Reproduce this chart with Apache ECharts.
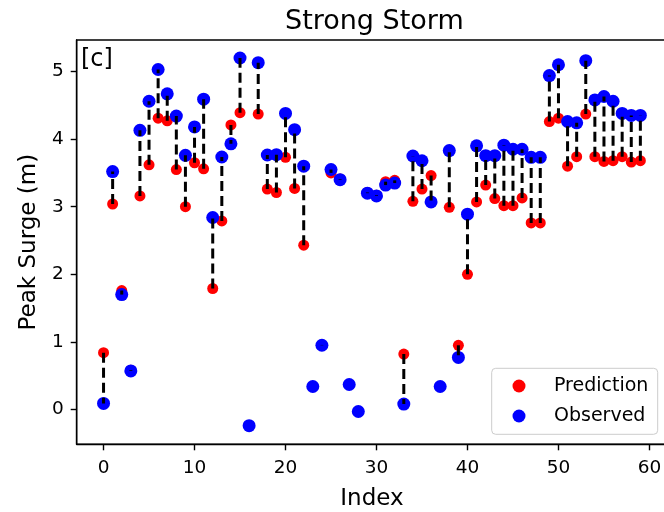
<!DOCTYPE html>
<html>
<head>
<meta charset="utf-8">
<script src="https://cdn.jsdelivr.net/npm/echarts@6/dist/echarts.min.js"></script>
<style>
html,body{margin:0;padding:0;background:#fff;}
#chart{width:664px;height:512px;}
</style>
</head>
<body>
<div id="chart"></div>
<script>
// ---- data ----
const indices = [0,1,2,3,4,5,6,7,8,9,10,11,12,13,14,15,16,17,18,19,20,21,22,23,24,25,26,27,28,29,30,31,32,33,34,35,36,37,38,39,40,41,42,43,44,45,46,47,48,49,50,51,52,53,54,55,56,57,58,59];
const prediction = [0.84,3.04,1.76,0.58,3.16,3.62,4.31,4.27,3.55,3.00,3.65,3.56,1.79,2.79,4.21,4.39,-0.24,4.37,3.26,3.21,3.73,3.27,2.43,0.34,0.955,3.50,3.41,0.37,-0.03,3.21,3.17,3.37,3.39,0.82,3.08,3.26,3.46,0.34,2.99,0.95,2.00,3.07,3.32,3.12,3.015,3.015,3.13,2.76,2.76,4.26,4.31,3.60,3.74,4.37,3.74,3.67,3.68,3.74,3.66,3.68];
const observed   = [0.09,3.52,1.70,0.57,4.13,4.56,5.03,4.67,4.34,3.76,4.18,4.59,2.84,3.735,3.93,5.20,-0.24,5.13,3.765,3.77,4.38,4.14,3.60,0.34,0.95,3.55,3.40,0.37,-0.03,3.20,3.16,3.32,3.35,0.08,3.75,3.68,3.07,0.34,3.83,0.77,2.89,3.90,3.755,3.755,3.91,3.85,3.85,3.73,3.73,4.94,5.10,4.26,4.24,5.16,4.58,4.63,4.56,4.38,4.35,4.35];
const xTicks = [0,10,20,30,40,50,60];
const yTicks = [0,1,2,3,4,5];
const titleText = 'Strong Storm';
const panelTag = '[c]';
const xName = 'Index';
const yName = 'Peak Surge (m)';
const seriesNames = ['Prediction','Observed'];

const FONT = 'DejaVu Sans';
const predData = indices.map((x,i)=>[x, prediction[i]]);
const obsData = indices.map((x,i)=>[x, observed[i]]);
const pairData = indices.map((x,i)=>[x, prediction[i], observed[i]]);

const chart = echarts.init(document.getElementById('chart'), null, {renderer:'canvas'});
const axisCommon = {
  axisLine:{show:true, onZero:false, lineStyle:{color:'#000', width:1.4}},
  axisTick:{show:true, inside:false, length:6, lineStyle:{color:'#000', width:1.4}},
  splitLine:{show:false},
  nameLocation:'middle',
  nameTextStyle:{fontFamily:FONT, fontSize:23, color:'#000'}
};
chart.setOption({
  animation:false,
  backgroundColor:'#fff',
  textStyle:{fontFamily:FONT},
  title:{text:titleText, left:280, top:3, textStyle:{fontFamily:FONT, fontSize:27, fontWeight:'normal', color:'#000'}},
  grid:{left:76.7, top:40, width:590.5, height:404.3, show:true, borderColor:'#000', borderWidth:1.4, backgroundColor:'transparent', containLabel:false, outerBoundsMode:'none'},
  xAxis:Object.assign({}, axisCommon, {
    type:'value', min:-2.95, max:61.95, name:xName, nameGap:43,
    axisTick:Object.assign({}, axisCommon.axisTick, {customValues:xTicks}),
    axisLabel:{customValues:xTicks, fontFamily:FONT, fontSize:18.5, color:'#000', margin:14}
  }),
  yAxis:Object.assign({}, axisCommon, {
    type:'value', min:-0.515, max:5.466, name:yName, nameGap:35, nameRotate:90,
    axisTick:Object.assign({}, axisCommon.axisTick, {customValues:yTicks}),
    axisLabel:{customValues:yTicks, fontFamily:FONT, fontSize:18.5, color:'#000', margin:13}
  }),
  legend:{
    orient:'vertical', left:507.5, top:371, itemWidth:13, itemHeight:13, itemGap:10,
    icon:'circle', data:seriesNames,
    formatter:function(name){ return '{t|' + name + '}'; },
    textStyle:{fontFamily:FONT, fontSize:19, color:'#000', lineHeight:20,
      rich:{t:{fontFamily:FONT, fontSize:19, color:'#000', lineHeight:20, padding:[0,0,0,23.5]}}}
  },
  graphic:[
    {type:'rect', z:1, shape:{x:491.7, y:368.3, width:166, height:66, r:4}, style:{fill:'rgba(255,255,255,0.8)', stroke:'#cccccc', lineWidth:1}},
    {type:'text', z:1, left:81, top:48, style:{text:panelTag, font:'24px "DejaVu Sans"', fill:'#000'}}
  ],
  series:[
    {name:seriesNames[0], type:'scatter', data:predData, symbolSize:11, itemStyle:{color:'#ff0000', opacity:1}, z:2, silent:true},
    {name:seriesNames[1], type:'scatter', data:obsData, symbolSize:13, itemStyle:{color:'#0000ff', opacity:1}, z:3, silent:true},
    {name:'pairs', type:'custom', data:pairData, z:4, silent:true, encode:{x:0, y:[1,2]},
      renderItem:function(params, api){
        const p1 = api.coord([api.value(0), api.value(1)]);
        const p2 = api.coord([api.value(0), api.value(2)]);
        return {type:'line', shape:{x1:p1[0], y1:p1[1], x2:p2[0], y2:p2[1]},
          style:{stroke:'#000', lineWidth:3, lineDash:[10,5], fill:null}};
      }
    }
  ]
});
</script>
</body>
</html>
